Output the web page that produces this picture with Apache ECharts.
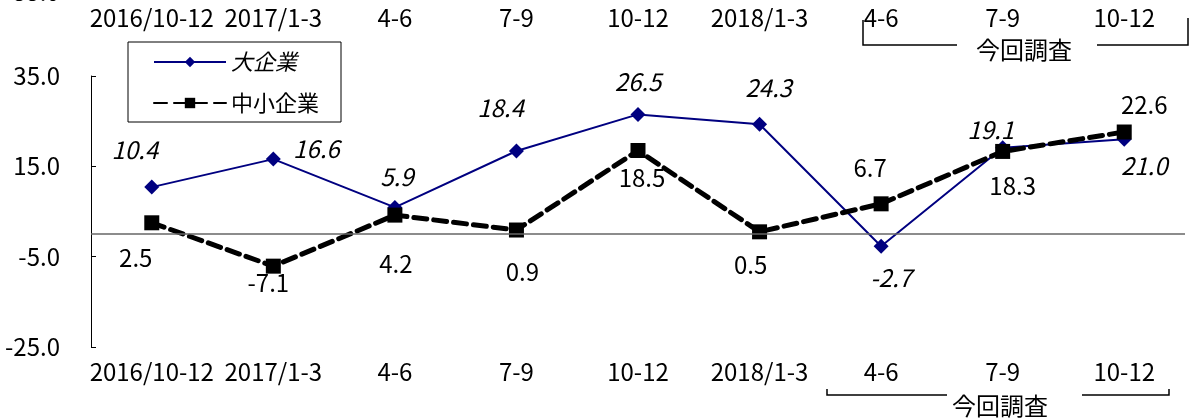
<!DOCTYPE html>
<html lang="ja">
<head>
    <meta charset="UTF-8">
    <title>大企業・中小企業</title>
    <script src="https://cdnjs.cloudflare.com/ajax/libs/echarts/6.0.0/echarts.min.js"></script>
    <style>
        html, body { margin: 0; padding: 0; background: #fff; }
        #chart { width: 1192px; height: 419px; }
    </style>
</head>
<body>
    <div id="chart"></div>

    <script>
        // data
        const categories = ['2016/10-12', '2017/1-3', '4-6', '7-9', '10-12', '2018/1-3', '4-6', '7-9', '10-12'];
        const large_values = [10.4, 16.6, 5.9, 18.4, 26.5, 24.3, -2.7, 19.1, 21.0];
        const small_values = [2.5, -7.1, 4.2, 0.9, 18.5, 0.5, 6.7, 18.3, 22.6];
        const series_names = ['大企業', '中小企業'];
        const y_ticks = [-25, -5, 15, 35];
        const survey_label = '今回調査';

        // label offsets from the point (px)
        const large_offsets = [[-17, -37], [43, -10], [2, -31], [-16, -43], [0, -33], [9, -36], [10, 32], [-12, -18], [20, 27]];
        const small_offsets = [[-16, 35], [-5, 17], [1, 49], [6, 42], [4, 27], [-9, 33], [-11, -36], [10, 34], [20, -27]];

        const FONT = '"Noto Sans CJK JP", sans-serif';
        const FS = 24;

        function with_labels(values, offsets){
            return values.map((v, i) => ({
                value: v,
                label: {offset: offsets[i]}
            }));
        }

        const chart = echarts.init(document.getElementById('chart'));
        const option = {
            animation: false,
            textStyle: {fontFamily: FONT},
            grid: {left: 91, right: 7, top: 76, bottom: 72},
            legend: {
                orient: 'vertical',
                left: 128,
                top: 42,
                padding: [9, 22, 8, 25],
                itemGap: 19,
                itemWidth: 72,
                itemHeight: 13,
                borderColor: '#000',
                borderWidth: 1,
                backgroundColor: '#fff',
                textStyle: {fontSize: 22, lineHeight: 22, color: '#000', fontFamily: FONT},
                data: [
                    {name: series_names[0], textStyle: {fontStyle: 'italic'}},
                    {name: series_names[1]}
                ]
            },
            xAxis: [
                {
                    type: 'category',
                    data: categories,
                    position: 'bottom',
                    axisLine: {show: false},
                    axisTick: {show: false},
                    axisLabel: {color: '#000', fontSize: FS, margin: 13, interval: 0}
                },
                {
                    type: 'category',
                    data: categories,
                    position: 'top',
                    axisLine: {show: false},
                    axisTick: {show: false},
                    axisLabel: {color: '#000', fontSize: FS, margin: 46, interval: 0}
                }
            ],
            yAxis: {
                type: 'value',
                min: y_ticks[0],
                max: y_ticks[y_ticks.length - 1],
                interval: 20,
                splitLine: {show: false},
                axisLine: {show: true, lineStyle: {color: '#000', width: 1}},
                axisTick: {show: true, inside: true, length: 5, lineStyle: {color: '#000'}},
                axisLabel: {
                    color: '#000', fontSize: FS, margin: 31,
                    formatter: v => v.toFixed(1)
                }
            },
            series: [
                {
                    name: series_names[0],
                    type: 'line',
                    data: with_labels(large_values, large_offsets),
                    symbol: 'diamond',
                    symbolSize: 15,
                    itemStyle: {color: '#000080'},
                    lineStyle: {color: '#000080', width: 2},
                    label: {
                        show: true,
                        position: 'inside',
                        align: 'center',
                        verticalAlign: 'middle',
                        color: '#000',
                        fontSize: FS,
                        fontStyle: 'italic',
                        formatter: p => p.value.toFixed(1)
                    },
                    markLine: {
                        silent: true,
                        symbol: 'none',
                        label: {show: false},
                        lineStyle: {color: '#666', width: 1.5, type: 'solid'},
                        data: [{yAxis: 0}]
                    },
                    z: 2
                },
                {
                    name: series_names[1],
                    type: 'line',
                    data: with_labels(small_values, small_offsets),
                    symbol: 'rect',
                    symbolSize: 15,
                    itemStyle: {color: '#000'},
                    lineStyle: {color: '#000', width: 5, type: [13, 7], cap: 'round'},
                    label: {
                        show: true,
                        position: 'inside',
                        align: 'center',
                        verticalAlign: 'middle',
                        color: '#000',
                        fontSize: FS,
                        formatter: p => p.value.toFixed(1)
                    },
                    z: 3
                }
            ],
            graphic: [
                // cut-off top tick label
                {type: 'text', left: 13, top: -20, style: {text: '55.0', font: FS + 'px ' + FONT, fill: '#000'}},
                // top bracket
                {type: 'polyline', shape: {points: [[863, 20], [863, 45], [957, 45]]}, style: {stroke: '#000', lineWidth: 1.5, fill: null}},
                {type: 'polyline', shape: {points: [[1097, 45], [1188, 45], [1188, 18]]}, style: {stroke: '#000', lineWidth: 1.5, fill: null}},
                {type: 'text', x: 1024, y: 50, style: {text: survey_label, font: '24px ' + FONT, fill: '#000', align: 'center', verticalAlign: 'middle'}},
                // bottom bracket
                {type: 'polyline', shape: {points: [[827, 389], [827, 395], [947, 395]]}, style: {stroke: '#000', lineWidth: 1.5, fill: null}},
                {type: 'polyline', shape: {points: [[1082, 395], [1169, 395], [1169, 389]]}, style: {stroke: '#000', lineWidth: 1.5, fill: null}},
                {type: 'text', x: 1000, y: 406, style: {text: survey_label, font: '24px ' + FONT, fill: '#000', align: 'center', verticalAlign: 'middle'}}
            ]
        };
        chart.setOption(option);
    </script>
</body>
</html>
